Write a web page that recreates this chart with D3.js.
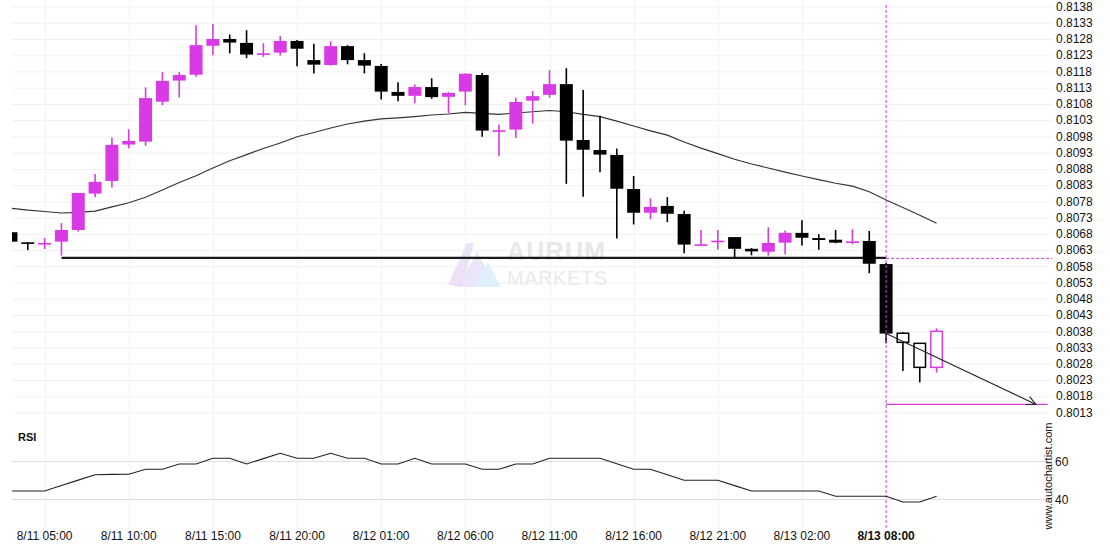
<!DOCTYPE html>
<html><head><meta charset="utf-8">
<script src="https://cdn.jsdelivr.net/npm/d3@7"></script>
<style>
body{margin:0;background:#fff;}
svg{display:block;font-family:"Liberation Sans",Arial,sans-serif;}
</style>
</head><body>
<svg id="c" width="1110" height="550"></svg>
<script>
// ---------------- data ----------------
const timeLabels = ["8/11 05:00","8/11 10:00","8/11 15:00","8/11 20:00","8/12 01:00","8/12 06:00","8/12 11:00","8/12 16:00","8/12 21:00","8/13 02:00","8/13 08:00"];
const timeLabelIdx = [2,7,12,17,22,27,32,37,42,47,52];

const open = [0.80685,0.80654,0.80650,0.80656,0.80692,0.80804,0.80843,0.80955,0.80964,0.81087,
  0.81152,0.81170,0.81259,0.81280,0.81268,0.81233,0.81238,0.81274,0.81215,0.81200,
  0.81258,0.81215,0.81197,0.81117,0.81105,0.81132,0.81102,0.81118,0.81169,0.80998,
  0.81001,0.81090,0.81108,0.81141,0.80969,0.80938,0.80923,0.80818,0.80745,0.80766,
  0.80741,0.80647,0.80655,0.80670,0.80634,0.80625,0.80653,0.80683,0.80667,0.80662,
  0.80653,0.80658,0.80587,0.80374,0.80343,0.80269];
const high = [0.80685,0.80655,0.80667,0.80713,0.80806,0.80864,0.80977,0.81002,0.81131,0.81178,
  0.81178,0.81322,0.81326,0.81294,0.81307,0.81267,0.81289,0.81277,0.81265,0.81273,
  0.81261,0.81236,0.81203,0.81147,0.81140,0.81159,0.81116,0.81175,0.81175,0.81017,
  0.81100,0.81120,0.81184,0.81190,0.81123,0.81044,0.80943,0.80858,0.80789,0.80793,
  0.80751,0.80692,0.80692,0.80670,0.80636,0.80700,0.80690,0.80722,0.80679,0.80692,
  0.80694,0.80689,0.80590,0.80377,0.80343,0.80389];
const low = [0.80656,0.80630,0.80633,0.80613,0.80687,0.80793,0.80823,0.80943,0.80951,0.81076,
  0.81100,0.81164,0.81230,0.81236,0.81221,0.81225,0.81229,0.81196,0.81174,0.81198,
  0.81202,0.81174,0.81094,0.81088,0.81082,0.81096,0.81051,0.81076,0.80979,0.80919,
  0.80975,0.81020,0.81099,0.80834,0.80794,0.80870,0.80666,0.80709,0.80725,0.80716,
  0.80620,0.80643,0.80632,0.80605,0.80614,0.80613,0.80617,0.80644,0.80631,0.80651,
  0.80648,0.80559,0.80343,0.80258,0.80223,0.80253];
const close = [0.80656,0.80650,0.80652,0.80692,0.80806,0.80840,0.80954,0.80966,0.81098,0.81151,
  0.81169,0.81261,0.81280,0.81269,0.81232,0.81236,0.81274,0.81250,0.81201,0.81258,
  0.81215,0.81198,0.81118,0.81105,0.81132,0.81101,0.81114,0.81173,0.80998,0.80999,
  0.81086,0.81104,0.81141,0.80967,0.80939,0.80924,0.80819,0.80745,0.80763,0.80742,
  0.80647,0.80648,0.80659,0.80634,0.80626,0.80652,0.80683,0.80668,0.80661,0.80653,
  0.80657,0.80588,0.80373,0.80346,0.80269,0.80380];
const ma = [0.80759,0.80753,0.80749,0.80744,0.80746,0.80750,0.80763,0.80776,0.80793,0.80815,
  0.80838,0.80859,0.80883,0.80905,0.80924,0.80943,0.80960,0.80979,0.80992,0.81006,
  0.81018,0.81027,0.81034,0.81037,0.81041,0.81046,0.81049,0.81054,0.81051,0.81048,
  0.81052,0.81056,0.81060,0.81056,0.81048,0.81041,0.81027,0.81012,0.80997,0.80984,
  0.80963,0.80944,0.80927,0.80910,0.80895,0.80883,0.80870,0.80858,0.80847,0.80836,
  0.80827,0.80810,0.80784,0.80761,0.80737,0.80713];
const rsi = [44.4,44.4,44.4,47.3,50.1,52.9,53.1,53.2,55.8,55.8,
  58.6,58.6,61.6,61.6,58.6,61.4,64.2,61.6,61.6,64.2,
  61.6,61.6,58.6,58.6,61.6,58.6,58.6,58.6,55.8,55.8,
  58.6,58.6,61.6,61.6,61.6,61.6,58.7,55.8,55.8,52.9,
  50.0,50.0,50.0,47.2,44.4,44.4,44.4,44.4,44.4,41.6,
  41.6,41.6,41.6,38.6,38.6,41.6];

const priceTicks = ["0.8138","0.8133","0.8128","0.8123","0.8118","0.8113","0.8108","0.8103","0.8098","0.8093",
  "0.8088","0.8083","0.8078","0.8073","0.8068","0.8063","0.8058","0.8053","0.8048","0.8043",
  "0.8038","0.8033","0.8028","0.8023","0.8018","0.8013"];
const rsiTicks = [60, 40];

const supportLevel = 0.80606, supportFrom = 3, supportTo = 52;
const eventIdx = 52;          // pattern completion candle
const hollowFrom = 53;        // candles after the event
const targetLevel = 0.80155, arrowEndIdx = 60.9, targetEndIdx = 61.6;

// ---------------- layout ----------------
const svg = d3.select("#c");
const plotL = 12, plotR = 1052;
const x = d3.scaleLinear().domain([0, 52]).range([10.94, 886.1]);
const y = d3.scaleLinear().domain([0.8013, 0.8138]).range([412.5, 6.5]);
const yr = d3.scaleLinear().domain([40, 60]).range([499.3, 461.3]);
const MAG = "#d83ae5";
const bodyW = 13;

const defs = svg.append("defs");
defs.append("clipPath").attr("id","pc")
  .append("rect").attr("x",plotL).attr("y",0).attr("width",plotR-plotL).attr("height",420);
defs.append("clipPath").attr("id","rc")
  .append("rect").attr("x",plotL).attr("y",420).attr("width",plotR-plotL).attr("height",110);

// grid
const g0 = svg.append("g");
g0.selectAll(".hg").data(priceTicks).join("line")
  .attr("x1",plotL).attr("x2",plotR)
  .attr("y1",d=>y(+d)+0.5).attr("y2",d=>y(+d)+0.5)
  .attr("stroke","#f1f1f1").attr("stroke-width",1);
g0.selectAll(".vg").data(timeLabelIdx.slice(0,-1)).join("line")
  .attr("x1",d=>Math.round(x(d))+0.5).attr("x2",d=>Math.round(x(d))+0.5)
  .attr("y1",0).attr("y2",528)
  .attr("stroke","#f3f3f3").attr("stroke-width",1);
g0.selectAll(".rg").data(rsiTicks).join("line")
  .attr("x1",plotL).attr("x2",plotR)
  .attr("y1",d=>Math.round(yr(d))+0.5).attr("y2",d=>Math.round(yr(d))+0.5)
  .attr("stroke","#dedede").attr("stroke-width",1);

// watermark
const wm = svg.append("g");
const grad = defs.append("linearGradient").attr("id","wg")
  .attr("x1","0").attr("y1","1").attr("x2","1").attr("y2","0");
grad.append("stop").attr("offset","0").attr("stop-color","#f4d6f2");
grad.append("stop").attr("offset","1").attr("stop-color","#dde4f7");
wm.append("path").attr("d","M448,285 L467,243 L474,243 L462,287 Z").attr("fill","url(#wg)").attr("opacity",0.85);
wm.append("path").attr("d","M458,287 L477,252 L486,268 L474,287 Z").attr("fill","#e6e1f7").attr("opacity",0.85);
wm.append("path").attr("d","M474,287 L488,262 L501,287 Z").attr("fill","#dceefa").attr("opacity",0.9);
wm.append("text").attr("x",507).attr("y",260).attr("font-size",25).attr("font-weight","bold")
  .attr("fill","#e8e8e8").attr("textLength",98).text("AURUM");
wm.append("text").attr("x",507).attr("y",285).attr("font-size",20).attr("font-weight","300")
  .attr("fill","#eaeaea").attr("textLength",100).text("MARKETS");

// price panel
const pg = svg.append("g").attr("clip-path","url(#pc)");

// MA line
pg.append("path").datum(ma)
  .attr("d", d3.line().x((d,i)=>x(i)).y(d=>y(d)))
  .attr("fill","none").attr("stroke","#333").attr("stroke-width",1.1);

// support line
pg.append("line").attr("x1",x(supportFrom)).attr("x2",x(supportTo))
  .attr("y1",y(supportLevel)).attr("y2",y(supportLevel))
  .attr("stroke","#1a1a1a").attr("stroke-width",2.4);

// candles
const idx = d3.range(open.length);
const cg = pg.append("g");
idx.forEach(i=>{
  const up = close[i] > open[i];
  const col = up ? MAG : "#000";
  const hollow = i >= hollowFrom;
  const cx = x(i);
  cg.append("line").attr("x1",cx).attr("x2",cx)
    .attr("y1",y(high[i])).attr("y2",y(low[i]))
    .attr("stroke",col).attr("stroke-width",1.6);
  const yt = y(Math.max(open[i],close[i])), yb = y(Math.min(open[i],close[i]));
  const h = Math.max(yb-yt, 1.6);
  if (hollow) {
    cg.append("rect").attr("x",cx-bodyW/2+0.75).attr("y",yt).attr("width",bodyW-1.5).attr("height",h)
      .attr("fill","#fff").attr("stroke",col).attr("stroke-width",1.5);
  } else {
    cg.append("rect").attr("x",cx-bodyW/2).attr("y",yt).attr("width",bodyW).attr("height",h)
      .attr("fill",col);
  }
});

// event markers
svg.append("line").attr("x1",x(eventIdx)).attr("x2",x(eventIdx)).attr("y1",5).attr("y2",528)
  .attr("stroke",MAG).attr("stroke-width",1).attr("stroke-dasharray","3,2");
svg.append("line").attr("x1",x(eventIdx)).attr("x2",plotR)
  .attr("y1",y(supportLevel)+0.5).attr("y2",y(supportLevel)+0.5)
  .attr("stroke",MAG).attr("stroke-width",1).attr("stroke-dasharray","3,2");
svg.append("line").attr("x1",x(eventIdx)).attr("x2",x(targetEndIdx))
  .attr("y1",y(targetLevel)).attr("y2",y(targetLevel))
  .attr("stroke",MAG).attr("stroke-width",1.2);

// forecast arrow
const ax0 = x(eventIdx), ay0 = y(close[eventIdx]), ax1 = x(arrowEndIdx), ay1 = y(targetLevel);
svg.append("line").attr("x1",ax0).attr("y1",ay0).attr("x2",ax1).attr("y2",ay1)
  .attr("stroke","#222").attr("stroke-width",1.1);
const ang = Math.atan2(ay1-ay0, ax1-ax0), al = 10, aw = 0.45;
svg.append("path")
  .attr("d",`M${ax1-al*Math.cos(ang-aw)},${ay1-al*Math.sin(ang-aw)} L${ax1},${ay1} L${ax1-al*Math.cos(ang+aw)},${ay1-al*Math.sin(ang+aw)}`)
  .attr("fill","none").attr("stroke","#222").attr("stroke-width",1.1);

// price axis labels
svg.append("g").selectAll("text").data(priceTicks).join("text")
  .attr("x",1056).attr("y",d=>y(+d)).attr("dy","0.35em")
  .attr("font-size",12).attr("fill","#111").text(d=>d);

// RSI panel
svg.append("text").attr("x",18).attr("y",441).attr("font-size",11).attr("font-weight","bold")
  .attr("fill","#111").text("RSI");
svg.append("path").datum(rsi)
  .attr("d", d3.line().x((d,i)=>x(i)).y(d=>yr(d)))
  .attr("clip-path","url(#rc)")
  .attr("fill","none").attr("stroke","#222").attr("stroke-width",1.1);
svg.append("g").selectAll("text").data(rsiTicks).join("text")
  .attr("x",1055).attr("y",d=>yr(d)).attr("dy","0.35em")
  .attr("font-size",12).attr("fill","#111").text(d=>d);
svg.append("text").attr("transform","translate(1052,476) rotate(-90)")
  .attr("text-anchor","middle").attr("font-size",11).attr("fill","#111").text("www.autochartist.com");

// time axis labels
svg.append("g").selectAll("text").data(timeLabels).join("text")
  .attr("x",(d,i)=>x(timeLabelIdx[i])).attr("y",540)
  .attr("text-anchor","middle").attr("font-size",12).attr("fill","#111")
  .attr("font-weight",(d,i)=>timeLabelIdx[i]===eventIdx?"bold":"normal")
  .text(d=>d);
</script>
</body></html>
